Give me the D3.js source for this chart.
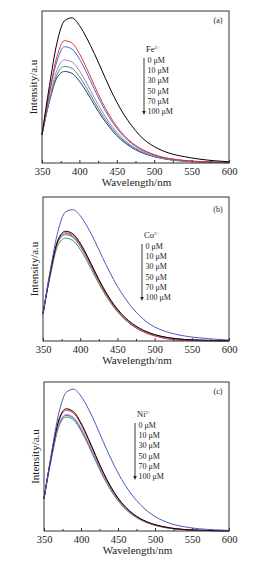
<!DOCTYPE html>
<html>
<head>
<meta charset="utf-8">
<script src="https://cdn.jsdelivr.net/npm/d3@7"></script>
<style>
  body { margin: 0; background: #fff; }
  svg { display: block; }
  text { font-family: "Liberation Serif", "Times New Roman", serif; fill: #222; }
</style>
</head>
<body>
<svg id="chart" width="268" height="563"></svg>
<script>
// wavelength grid (nm)
var wavelengths = [350, 360, 370, 380, 390, 400, 410, 420, 430, 440, 450, 460, 470, 480, 490, 500, 520, 540, 560, 580, 600];
var xTicks = [350, 400, 450, 500, 550, 600];
var concLabels = ["0 \u03bcM", "10 \u03bcM", "30 \u03bcM", "50 \u03bcM", "70 \u03bcM", "100 \u03bcM"];

// (a) Fe3+
var fe0   = [186, 510, 790, 935, 955, 905, 820, 720, 610, 500, 400, 315, 245, 185, 140, 108, 65, 42, 26, 15, 8];
var fe10  = [186, 470, 700, 805, 790, 720, 620, 510, 405, 315, 240, 180, 135, 100, 75, 55, 30, 17, 10, 6, 3];
var fe30  = [186, 460, 670, 765, 750, 685, 590, 485, 385, 300, 228, 172, 128, 95, 71, 52, 28, 16, 9, 5, 3];
var fe50  = [186, 430, 610, 678, 665, 607, 523, 430, 342, 266, 203, 153, 114, 85, 63, 46, 25, 14, 8, 5, 2];
var fe70  = [186, 415, 580, 635, 623, 568, 490, 403, 320, 250, 190, 143, 107, 80, 59, 43, 23, 13, 8, 4, 2];
var fe100 = [186, 405, 560, 602, 590, 538, 465, 382, 303, 237, 180, 136, 101, 75, 56, 41, 22, 12, 7, 4, 2];

// (b) Co2+
var co0   = [189, 500, 760, 895, 912, 870, 790, 690, 580, 475, 380, 300, 230, 175, 130, 98, 58, 35, 22, 13, 7];
var co10  = [189, 480, 700, 762, 745, 680, 585, 480, 380, 293, 222, 165, 121, 88, 63, 45, 22, 11, 6, 3, 2];
var co30  = [189, 475, 695, 752, 735, 670, 575, 470, 370, 283, 210, 153, 108, 76, 52, 35, 12, 3, 1, 0, 0];
var co50  = [189, 470, 690, 745, 728, 663, 570, 466, 368, 283, 213, 157, 114, 82, 59, 42, 20, 10, 5, 3, 1];
var co70  = [189, 468, 685, 738, 721, 657, 565, 462, 365, 280, 210, 155, 113, 81, 58, 41, 20, 10, 5, 3, 1];
var co100 = [189, 460, 665, 714, 698, 636, 547, 447, 353, 271, 204, 150, 109, 78, 56, 40, 20, 10, 5, 3, 1];

// (c) Ni2+
var ni0   = [217, 520, 790, 930, 952, 905, 820, 715, 600, 490, 390, 305, 235, 178, 132, 97, 52, 28, 15, 8, 4];
var ni10  = [217, 510, 745, 820, 800, 725, 620, 505, 395, 300, 222, 162, 117, 84, 60, 43, 21, 10, 5, 3, 1];
var ni30  = [217, 505, 737, 810, 790, 715, 612, 498, 390, 295, 218, 159, 115, 82, 58, 41, 20, 9, 5, 2, 1];
var ni50  = [217, 495, 715, 782, 762, 690, 590, 480, 375, 284, 210, 152, 110, 79, 56, 40, 19, 9, 5, 2, 1];
var ni70  = [217, 493, 710, 776, 756, 684, 585, 476, 372, 282, 208, 151, 109, 78, 55, 39, 19, 9, 4, 2, 1];
var ni100 = [217, 485, 700, 765, 745, 673, 575, 467, 364, 275, 203, 147, 106, 76, 54, 38, 18, 9, 4, 2, 1];

var colorsA = ["#000000", "#e8322a", "#3a6fd8", "#b07ad6", "#3c9a4a", "#27338f"];
var colorsBC = ["#5454c4", "#000000", "#e8322a", "#b07ad6", "#3a6fd8", "#3c9a4a"];

var svg = d3.select("#chart");

var panels = [
    { series: [fe0, fe10, fe30, fe50, fe70, fe100], colors: colorsA, tag: "(a)", ion: "Fe", charge: "3+",
      left: 42, right: 229, top: 11, bottom: 163, legX: 144, legTop: 52, tagY: 23 },
    { series: [co0, co10, co30, co50, co70, co100], colors: colorsBC, tag: "(b)", ion: "Co", charge: "2+",
      left: 43, right: 229, top: 197, bottom: 341, legX: 142, legTop: 238, tagY: 212 },
    { series: [ni0, ni10, ni30, ni50, ni70, ni100], colors: colorsBC, tag: "(c)", ion: "Ni", charge: "2+",
      left: 44, right: 229, top: 382, bottom: 531, legX: 135, legTop: 417, tagY: 394 }
];

panels.forEach(function (p) {
    var x = d3.scaleLinear().domain([350, 600]).range([p.left, p.right]);
    var y = d3.scaleLinear().domain([0, 1000]).range([p.bottom, p.top]);
    var g = svg.append("g");

    var line = d3.line()
        .x(function (d, i) { return x(wavelengths[i]); })
        .y(function (d) { return y(d); })
        .curve(d3.curveMonotoneX);

    // draw the lowest curves first so the top ones sit over them
    p.series.slice().reverse().forEach(function (s, k) {
        var idx = p.series.length - 1 - k;
        g.append("path")
            .attr("d", line(s))
            .attr("fill", "none")
            .attr("stroke", p.colors[idx])
            .attr("stroke-width", 1);
    });

    // frame
    g.append("rect")
        .attr("x", p.left).attr("y", p.top)
        .attr("width", p.right - p.left).attr("height", p.bottom - p.top)
        .attr("fill", "none").attr("stroke", "#333").attr("stroke-width", 1);

    // bottom axis, ticks pointing inward, minor ticks every 25 nm
    var minor = d3.range(375, 600, 50);
    g.append("g")
        .attr("transform", "translate(0," + p.bottom + ")")
        .call(d3.axisBottom(x).tickValues(minor).tickSize(-2).tickFormat(""))
        .call(function (a) { a.select(".domain").remove(); a.selectAll("line").attr("stroke", "#333"); });
    g.append("g")
        .attr("transform", "translate(0," + p.bottom + ")")
        .call(d3.axisBottom(x).tickValues(xTicks).tickSize(-3).tickPadding(5))
        .call(function (a) {
            a.select(".domain").remove();
            a.selectAll("line").attr("stroke", "#333");
            a.selectAll("text").attr("font-size", "10.5px").attr("font-family", "Liberation Serif").attr("fill", "#222");
        });

    g.append("text")
        .attr("x", (p.left + p.right) / 2 + 1)
        .attr("y", p.bottom + 23)
        .attr("text-anchor", "middle")
        .attr("font-size", "11px")
        .text("Wavelength/nm");

    g.append("text")
        .attr("transform", "translate(" + (p.left - 5) + "," + ((p.top + p.bottom) / 2) + ") rotate(-90)")
        .attr("text-anchor", "middle")
        .attr("font-size", "11px")
        .text("Intensity/a.u");

    g.append("text")
        .attr("x", p.right - 11)
        .attr("y", p.tagY)
        .attr("text-anchor", "middle")
        .attr("font-size", "8px")
        .text(p.tag);

    // legend
    var ion = g.append("text")
        .attr("x", p.legX + 2)
        .attr("y", p.legTop)
        .attr("font-size", "8.5px")
        .text(p.ion);
    ion.append("tspan").attr("font-size", "5px").attr("dy", "-3.5").text(p.charge);

    var step = 10.2;
    concLabels.forEach(function (c, i) {
        g.append("text")
            .attr("x", p.legX + 3.5)
            .attr("y", p.legTop + 11 + i * step)
            .attr("font-size", "8px")
            .text(c);
    });

    var arrTop = p.legTop + 6, arrBot = p.legTop + 11 + 5 * step + 1;
    g.append("line")
        .attr("x1", p.legX).attr("x2", p.legX)
        .attr("y1", arrTop).attr("y2", arrBot - 3)
        .attr("stroke", "#222").attr("stroke-width", 0.9);
    g.append("path")
        .attr("d", "M" + (p.legX - 1.8) + "," + (arrBot - 4) + "L" + (p.legX + 1.8) + "," + (arrBot - 4) + "L" + p.legX + "," + arrBot + "Z")
        .attr("fill", "#222");
});
</script>
</body>
</html>
